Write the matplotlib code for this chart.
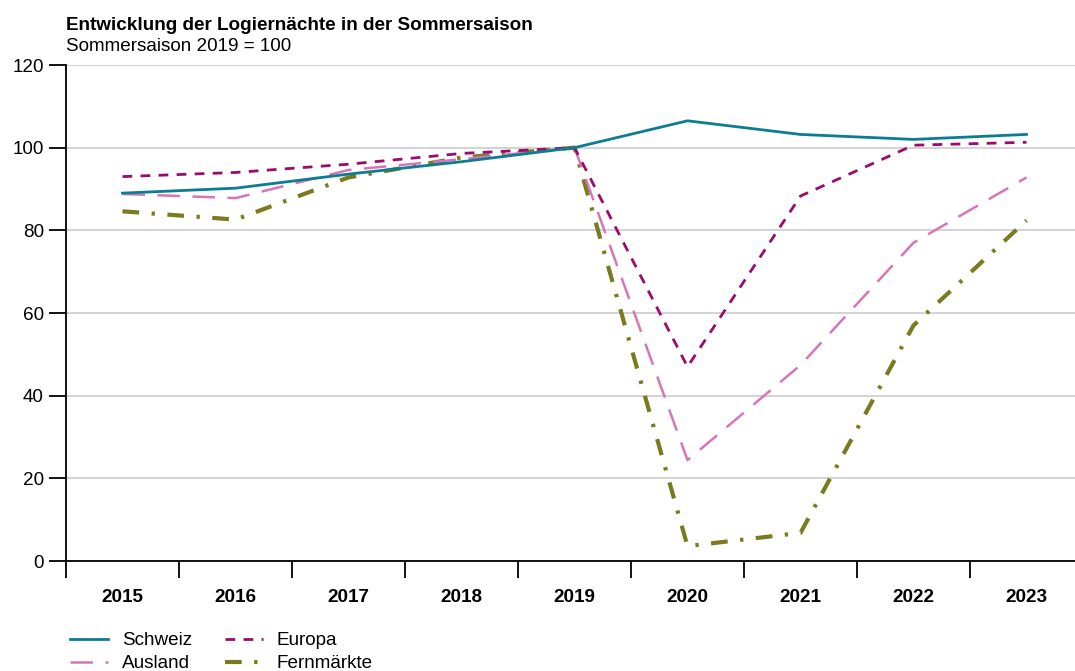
import numpy as np
import matplotlib.pyplot as plt

plt.rcParams['font.family'] = ['Liberation Sans', 'DejaVu Sans']

# data (Sommersaison 2019 = 100)
years = ['2015', '2016', '2017', '2018', '2019', '2020', '2021', '2022', '2023']
schweiz = [89.0, 90.2, 93.6, 96.6, 100.0, 106.5, 103.2, 102.0, 103.2]
europa = [93.0, 94.0, 96.0, 98.6, 100.0, 47.0, 88.3, 100.6, 101.3]
ausland = [88.8, 87.8, 94.6, 97.2, 100.0, 24.4, 47.4, 77.0, 92.8]
fernmaerkte = [84.6, 82.6, 92.8, 97.6, 100.0, 3.6, 6.8, 57.0, 82.4]

c_schweiz = '#0B7D93'
c_europa = '#9A0B6D'
c_ausland = '#D676B8'
c_fern = '#7A7A1E'

fs = 13.6

fig = plt.figure(figsize=(10.75, 6.71), dpi=100)
ax = fig.add_axes([66/1075, 110/671, 1017/1075, 496/671])

x = np.arange(len(years))
ax.plot(x, schweiz, color=c_schweiz, lw=2.0, label='Schweiz', zorder=5)
ax.plot(x, ausland, color=c_ausland, lw=1.8, dashes=(9, 5), label='Ausland', zorder=3)
ax.plot(x, europa, color=c_europa, lw=2.0, dashes=(3.5, 3), label='Europa', zorder=4)
ax.plot(x, fernmaerkte, color=c_fern, lw=3.0, dashes=(4, 3, 0.8, 3), label='Fernmärkte', zorder=2)

ax.set_xlim(-0.5, 8.5)
ax.set_ylim(0, 120)
ax.set_yticks(np.arange(0, 121, 20))
ax.yaxis.grid(True, color='#d0d0d0', lw=1.3)
ax.set_axisbelow(True)

ax.set_xticks(x)
ax.set_xticklabels(years, fontweight='bold')
ax.set_xticks(np.arange(-0.5, 8.6, 1), minor=True)
ax.tick_params(axis='x', which='major', length=0, pad=20, labelsize=fs)
ax.tick_params(axis='x', which='minor', length=12.5, width=1.3, direction='out')
ax.tick_params(axis='y', length=12.5, width=1.3, labelsize=fs, pad=3.5)

for s in ['top', 'right']:
    ax.spines[s].set_visible(False)
ax.spines['left'].set_linewidth(1.3)
ax.spines['bottom'].set_linewidth(1.3)

fig.text(66/1075, 1 - 30/671, 'Entwicklung der Logiernächte in der Sommersaison',
         fontsize=fs, fontweight='bold', va='baseline')
fig.text(66/1075, 1 - 51/671, 'Sommersaison 2019 = 100', fontsize=fs, va='baseline')

fig.legend(loc='upper left', bbox_to_anchor=(70/1075, 1 - 632/671), ncol=2,
           frameon=False, fontsize=fs, handlelength=2.0, handletextpad=0.74,
           columnspacing=1.75, labelspacing=0.3, borderpad=0, borderaxespad=0)

fig.savefig('out.png', dpi=100)
